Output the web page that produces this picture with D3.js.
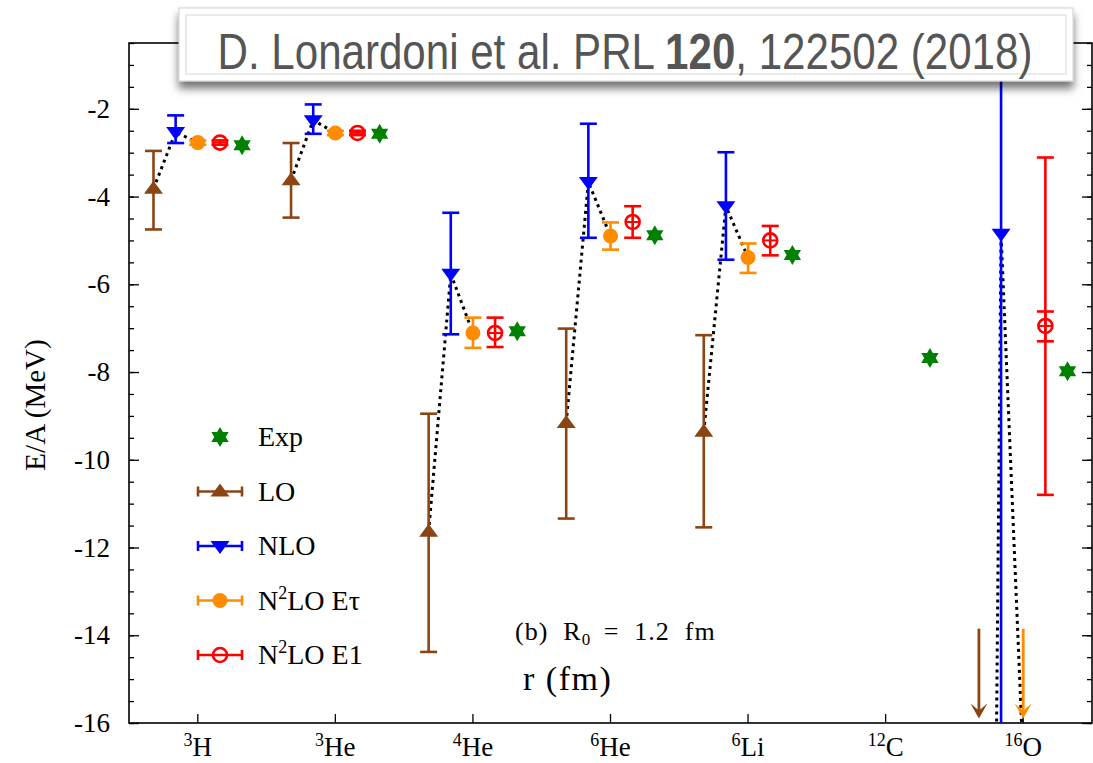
<!DOCTYPE html>
<html>
<head>
<meta charset="utf-8">
<script src="https://cdn.jsdelivr.net/npm/d3@7"></script>
<style>
  body { margin: 0; background: #fff; }
  svg text { font-family: "Liberation Serif", "Times New Roman", serif; }
  svg text.cite { font-family: "Liberation Sans", Arial, sans-serif; }
</style>
</head>
<body>
<div id="chart"></div>
<script>
// nuclei along the x axis
var nuclei = ["3H", "3He", "4He", "6He", "6Li", "12C", "16O"];
var massNumbers = ["3", "3", "4", "6", "6", "12", "16"];
var elements = ["H", "He", "He", "He", "Li", "C", "O"];

// E/A (MeV); null = no point. Values below -16 are off scale (drawn as arrows)
var expValues = [-2.83, -2.57, -7.07, -4.88, -5.33, -7.68, -7.98];

var loValues = [-3.82, -3.63, -11.64, -9.16, -9.36, null, -60];
var loUpper  = [-2.96, -2.78, -8.95, -7.01, -7.16, null, null];
var loLower  = [-4.75, -4.48, -14.38, -11.34, -11.54, null, null];

var nloValues = [-2.53, -2.26, -5.76, -3.67, -4.22, null, -4.85];
var nloUpper  = [-2.15, -1.90, -4.37, -2.34, -2.99, null, 8.0];
var nloLower  = [-2.78, -2.57, -7.14, -4.94, -5.44, null, -18.0];

var etauValues = [-2.77, -2.55, -7.11, -4.90, -5.39, null, -16.9];
var etauUpper  = [-2.72, -2.50, -6.76, -4.59, -5.07, null, null];
var etauLower  = [-2.82, -2.60, -7.45, -5.21, -5.74, null, null];

var e1Values = [-2.77, -2.55, -7.11, -4.58, -5.00, null, -6.95];
var e1Upper  = [-2.72, -2.50, -6.76, -4.22, -4.67, null, -3.11];
var e1Lower  = [-2.82, -2.60, -7.43, -4.94, -5.34, null, -10.80];
var e1StatUpper = [null, null, null, null, null, null, -6.62];
var e1StatLower = [null, null, null, null, null, null, -7.30];

var yTicks = [-16, -14, -12, -10, -8, -6, -4, -2];
var yMinorTicks = d3.range(-16, -0.4, 0.5);

function hexagram(r) {
    var c = Math.cos(Math.PI / 6) * r;
    return "M0," + (-r) + "L" + c + "," + (r / 2) + "L" + (-c) + "," + (r / 2) + "Z" +
        "M0," + r + "L" + (-c) + "," + (-r / 2) + "L" + c + "," + (-r / 2) + "Z";
}

function main() {
    var W = 1093, H = 763;
    var margin = { top: 43, right: 1, bottom: 40, left: 129 },
        width = W - margin.left - margin.right,
        height = H - margin.top - margin.bottom;

    var root = d3.select("#chart").append("svg")
        .attr("width", W).attr("height", H);

    var defs = root.append("defs");
    defs.append("clipPath").attr("id", "plot-clip")
        .append("rect").attr("width", width).attr("height", height);
    var shadow = defs.append("filter").attr("id", "box-shadow")
        .attr("x", "-5%").attr("y", "-20%").attr("width", "110%").attr("height", "160%");
    shadow.append("feDropShadow").attr("dx", 0).attr("dy", 7)
        .attr("stdDeviation", 4).attr("flood-color", "#000").attr("flood-opacity", 0.55);

    var svg = root.append("g")
        .attr("transform", "translate(" + margin.left + "," + margin.top + ")");

    var x = d3.scaleBand().domain(nuclei).range([0, width]).padding(0);
    var bw = x.bandwidth();
    var cx = function (i, off) { return x(nuclei[i]) + bw / 2 + off * bw; };

    var y = d3.scaleLinear().domain([-16, -0.5]).range([height, 0]);

    // axes: inward ticks all round
    svg.append("g").attr("class", "axis")
        .call(d3.axisLeft(y).tickValues(yMinorTicks).tickSize(-5).tickFormat(""));
    svg.append("g").attr("class", "axis")
        .call(d3.axisLeft(y).tickValues(yTicks).tickSize(-10).tickPadding(19)
            .tickFormat(function (d) { return String(d); }));
    svg.append("g").attr("class", "axis")
        .attr("transform", "translate(" + width + ",0)")
        .call(d3.axisRight(y).tickValues(yMinorTicks).tickSize(-5).tickFormat(""));
    svg.append("g").attr("class", "axis")
        .attr("transform", "translate(" + width + ",0)")
        .call(d3.axisRight(y).tickValues(yTicks).tickSize(-10).tickFormat(""));
    svg.append("g").attr("class", "axis")
        .attr("transform", "translate(0," + height + ")")
        .call(d3.axisBottom(x).tickSize(-9).tickFormat(""));
    svg.append("g").attr("class", "axis")
        .call(d3.axisTop(x).tickSize(-9).tickFormat(""));

    svg.selectAll(".axis .domain").remove();
    svg.selectAll(".axis line").attr("stroke", "#000").attr("stroke-width", 1.3);
    svg.selectAll(".axis text")
        .attr("font-size", 27).attr("fill", "#000");

    svg.append("rect").attr("width", width).attr("height", height)
        .attr("fill", "none").attr("stroke", "#000").attr("stroke-width", 1.6);

    // nucleus labels with superscript mass number
    nuclei.forEach(function (n, i) {
        var t = svg.append("text")
            .attr("x", cx(i, 0)).attr("y", height + 33)
            .attr("text-anchor", "middle")
            .attr("font-size", 27);
        t.append("tspan").attr("font-size", 18).attr("dy", -10).text(massNumbers[i]);
        t.append("tspan").attr("dy", 10).text(elements[i]);
    });

    // axis title
    svg.append("text")
        .attr("transform", "translate(" + (45 - margin.left) + "," + (405 - margin.top) + ") rotate(-90)")
        .attr("text-anchor", "middle")
        .attr("font-size", 29)
        .text("E/A (MeV)");

    var plot = svg.append("g").attr("clip-path", "url(#plot-clip)");

    var series = [
        { key: "LO", vals: loValues, hi: loUpper, lo: loLower, off: -0.322, color: "#8b4513", shape: "up" },
        { key: "NLO", vals: nloValues, hi: nloUpper, lo: nloLower, off: -0.161, color: "#0000ff", shape: "down" },
        { key: "N2LO Etau", vals: etauValues, hi: etauUpper, lo: etauLower, off: 0, color: "#ff8c00", shape: "disc" },
        { key: "N2LO E1", vals: e1Values, hi: e1Upper, lo: e1Lower, off: 0.161, color: "#ff0000", shape: "ring" }
    ];

    // dotted guide LO -> NLO -> N2LO Etau for each nucleus
    var guide = d3.line().x(function (d) { return d[0]; }).y(function (d) { return d[1]; });
    nuclei.forEach(function (n, i) {
        var pts = series.slice(0, 3)
            .filter(function (s) { return s.vals[i] !== null; })
            .map(function (s) { return [cx(i, s.off), y(s.vals[i])]; });
        if (pts.length < 2) return;
        plot.append("path").attr("d", guide(pts))
            .attr("fill", "none").attr("stroke", "#000")
            .attr("stroke-width", 3).attr("stroke-dasharray", "3,4");
    });

    function errorBar(g, px, top, bottom, color) {
        g.append("line").attr("x1", px).attr("x2", px)
            .attr("y1", y(top)).attr("y2", y(bottom))
            .attr("stroke", color).attr("stroke-width", 2.6);
        [top, bottom].forEach(function (v) {
            g.append("line").attr("x1", px - 8.5).attr("x2", px + 8.5)
                .attr("y1", y(v)).attr("y2", y(v))
                .attr("stroke", color).attr("stroke-width", 2.6);
        });
    }

    function marker(g, shape, px, py, color) {
        if (shape === "up") {
            g.append("path").attr("transform", "translate(" + px + "," + py + ")")
                .attr("d", "M0,-8L9.5,5L-9.5,5Z").attr("fill", color);
        } else if (shape === "down") {
            g.append("path").attr("transform", "translate(" + px + "," + py + ")")
                .attr("d", "M0,8L9.5,-5L-9.5,-5Z").attr("fill", color);
        } else if (shape === "disc") {
            g.append("circle").attr("cx", px).attr("cy", py).attr("r", 7.5).attr("fill", color);
        } else if (shape === "ring") {
            g.append("circle").attr("cx", px).attr("cy", py).attr("r", 7)
                .attr("fill", "none").attr("stroke", color).attr("stroke-width", 2.6);
            g.append("line").attr("x1", px - 7).attr("x2", px + 7)
                .attr("y1", py).attr("y2", py)
                .attr("stroke", color).attr("stroke-width", 2);
        } else if (shape === "star") {
            g.append("path").attr("transform", "translate(" + px + "," + py + ")")
                .attr("d", hexagram(10)).attr("fill", color);
        }
    }

    var yMin = y.domain()[0];
    series.forEach(function (s) {
        s.vals.forEach(function (v, i) {
            if (v === null) return;
            var px = cx(i, s.off);
            if (v < yMin) {
                // off-scale: downward arrow at the bottom of the frame
                plot.append("line").attr("x1", px).attr("x2", px)
                    .attr("y1", y(-13.85)).attr("y2", y(-15.9) - 4)
                    .attr("stroke", s.color).attr("stroke-width", 2.8);
                plot.append("path")
                    .attr("transform", "translate(" + px + "," + y(-15.9) + ")")
                    .attr("d", "M-8.5,-15L0,0L8.5,-15L0,-8Z").attr("fill", s.color);
                return;
            }
            if (s.hi[i] !== null) errorBar(plot, px, s.hi[i], s.lo[i], s.color);
            if (s.key === "N2LO E1" && e1StatUpper[i] !== null) {
                errorBar(plot, px, e1StatUpper[i], e1StatLower[i], s.color);
            }
            marker(plot, s.shape, px, y(v), s.color);
        });
    });

    expValues.forEach(function (v, i) {
        marker(plot, "star", cx(i, 0.322), y(v), "#008000");
    });

    // legend
    var legend = svg.append("g").attr("transform", "translate(" + (220 - margin.left) + ",0)");
    var rows = [
        { label: ["Exp"], color: "#008000", shape: "star", bar: false },
        { label: ["LO"], color: "#8b4513", shape: "up", bar: true },
        { label: ["NLO"], color: "#0000ff", shape: "down", bar: true },
        { label: ["N", "2", "LO E\u03c4"], color: "#ff8c00", shape: "disc", bar: true },
        { label: ["N", "2", "LO E1"], color: "#ff0000", shape: "ring", bar: true }
    ];
    rows.forEach(function (r, k) {
        var ry = 437 - margin.top + k * 54.5;
        if (r.bar) {
            legend.append("line").attr("x1", -22).attr("x2", 22).attr("y1", ry).attr("y2", ry)
                .attr("stroke", r.color).attr("stroke-width", 2.6);
            [-22, 22].forEach(function (ex) {
                legend.append("line").attr("x1", ex).attr("x2", ex)
                    .attr("y1", ry - 5).attr("y2", ry + 5)
                    .attr("stroke", r.color).attr("stroke-width", 2.6);
            });
        }
        marker(legend, r.shape, 0, ry, r.color);
        var t = legend.append("text").attr("x", 38).attr("y", ry + 9).attr("font-size", 28);
        t.append("tspan").text(r.label[0]);
        if (r.label.length > 1) {
            t.append("tspan").attr("font-size", 18).attr("dy", -11).text(r.label[1]);
            t.append("tspan").attr("dy", 11).text(r.label[2]);
        }
    });

    // annotation and x-axis title inside the frame
    var note = svg.append("text").attr("x", 515 - margin.left).attr("y", 640 - margin.top)
        .attr("font-size", 26).attr("letter-spacing", 1).attr("xml:space", "preserve");
    note.append("tspan").text("(b)  R");
    note.append("tspan").attr("font-size", 17).attr("dy", 5).text("0");
    note.append("tspan").attr("dy", -5).attr("dx", 5).text(" =  1.2  fm");

    svg.append("text").attr("x", 523 - margin.left).attr("y", 690 - margin.top)
        .attr("font-size", 34).attr("letter-spacing", 1.5).text("r (fm)");

    // citation box on top
    var box = root.append("g");
    box.append("rect").attr("x", 179).attr("y", 8).attr("width", 894).attr("height", 73)
        .attr("fill", "#fff").attr("stroke", "#cfcfcf").attr("stroke-width", 1)
        .attr("filter", "url(#box-shadow)");
    box.append("rect").attr("x", 186).attr("y", 15).attr("width", 880).attr("height", 59)
        .attr("fill", "none").attr("stroke", "#e4e4e4").attr("stroke-width", 1.5);
    var cite = box.append("text").attr("class", "cite")
        .attr("text-anchor", "middle")
        .attr("font-size", 50).attr("fill", "#555");
    cite.append("tspan").text("D. Lonardoni et al. PRL ");
    cite.append("tspan").attr("font-weight", "bold").text("120");
    cite.append("tspan").text(", 122502 (2018)");
    // squeeze horizontally to the width of the original caption
    var natural = cite.node().getComputedTextLength();
    cite.attr("transform", "translate(625,69) scale(" + (815 / natural) + ",1)");
}

window.addEventListener('load', main);
</script>
</body>
</html>
